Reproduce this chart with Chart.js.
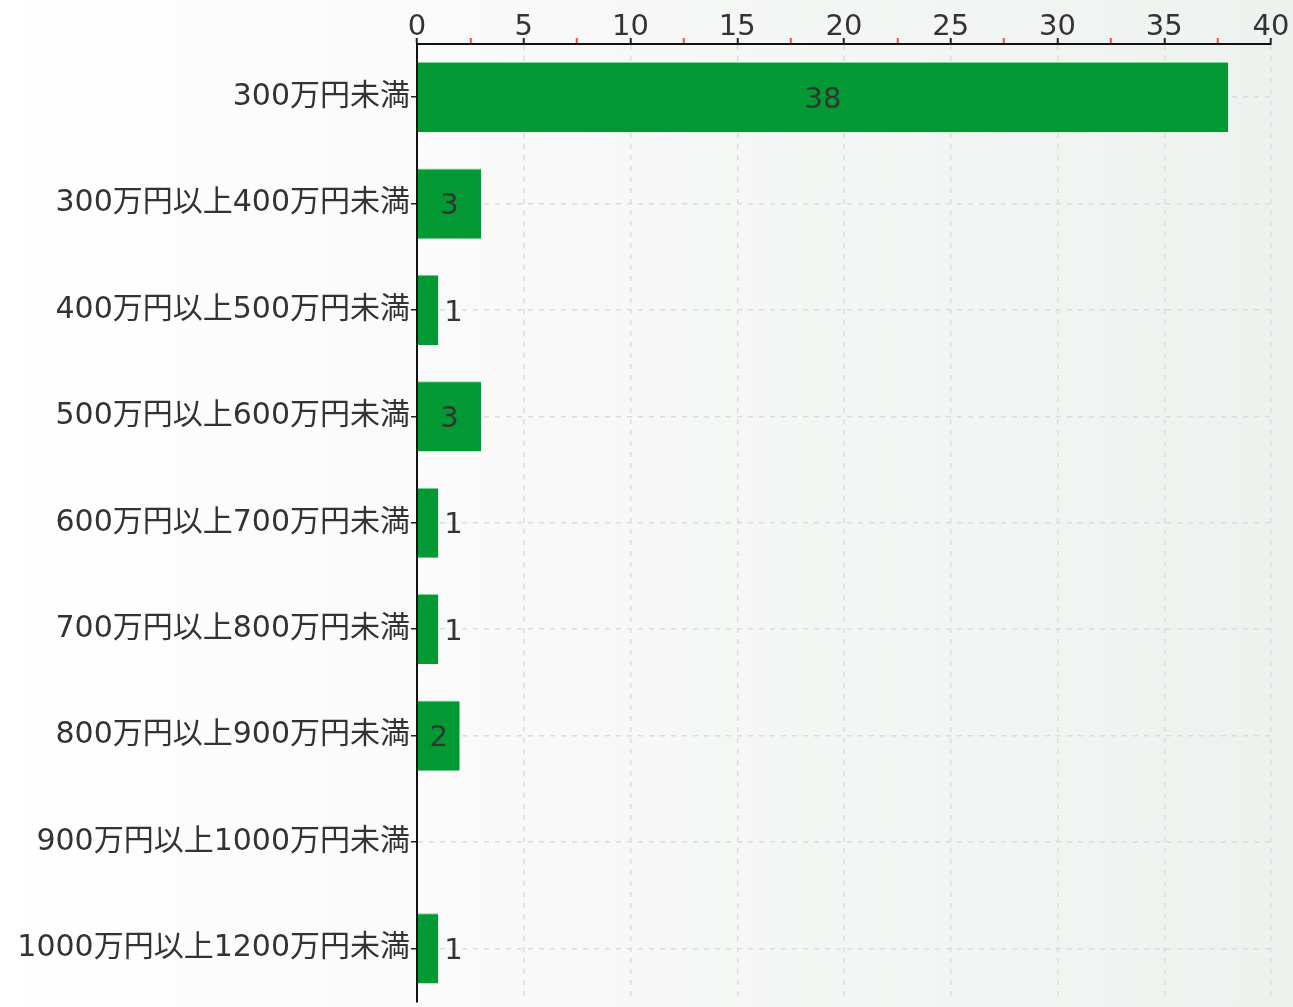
<!DOCTYPE html>
<html>
<head>
<meta charset="utf-8">
<script src="https://cdn.jsdelivr.net/npm/chart.js@4.4.1/dist/chart.umd.min.js"></script>
<style>
  html, body { margin: 0; padding: 0; }
  body {
    width: 1293px; height: 1007px; overflow: hidden;
    background: linear-gradient(to right, #ffffff 0%, #f8f9f8 40%, #eef2ef 100%);
  }
  canvas { display: block; }
</style>
</head>
<body>
<canvas id="income-chart" width="1293" height="1007"></canvas>
<script>
// Categories and counts
const categories = [
  "300万円未満",
  "300万円以上400万円未満",
  "400万円以上500万円未満",
  "500万円以上600万円未満",
  "600万円以上700万円未満",
  "700万円以上800万円未満",
  "800万円以上900万円未満",
  "900万円以上1000万円未満",
  "1000万円以上1200万円未満",
];
const counts = [38, 3, 1, 3, 1, 1, 2, 0, 1];
const axisMin = 0;
const axisMax = 40;
const majorStep = 5;
const minorStep = 2.5;

const FONT = '"DejaVu Sans", "Noto Sans CJK JP", sans-serif';

// Draw the count on each bar (inside when it fits, right of the bar otherwise)
const valueLabels = {
  id: "valueLabels",
  afterDatasetsDraw(chart) {
    const ctx = chart.ctx;
    const meta = chart.getDatasetMeta(0);
    ctx.save();
    ctx.font = "29px " + FONT;
    ctx.fillStyle = "#333";
    ctx.textBaseline = "middle";
    meta.data.forEach((bar, i) => {
      const v = counts[i];
      if (!v) return;
      const text = String(v);
      const w = ctx.measureText(text).width;
      const len = bar.x - bar.base;
      if (len > w + 12) {
        ctx.textAlign = "center";
        ctx.fillText(text, (bar.x + bar.base) / 2, bar.y + 3);
      } else {
        ctx.textAlign = "left";
        ctx.fillText(text, bar.x + 6, bar.y + 3);
      }
    });
    ctx.restore();
  },
};

const ctx = document.getElementById("income-chart").getContext("2d");

new Chart(ctx, {
  type: "bar",
  data: {
    labels: categories,
    datasets: [
      {
        data: counts,
        backgroundColor: "#029935",
        borderColor: "#7fd89a",
        borderWidth: { top: 1, right: 0, bottom: 0, left: 0 },
        borderSkipped: false,
        barPercentage: 0.66,
        categoryPercentage: 1,
      },
    ],
  },
  options: {
    indexAxis: "y",
    responsive: false,
    animation: false,
    layout: { padding: { top: 0, right: 22, bottom: 0, left: 0 } },
    plugins: {
      legend: { display: false },
      tooltip: { enabled: false },
    },
    scales: {
      x: {
        position: "top",
        min: axisMin,
        max: axisMax,
        afterFit: (scale) => { scale.height = 44; },
        ticks: {
          stepSize: minorStep,
          autoSkip: false,
          maxRotation: 0,
          color: "#333",
          font: { family: FONT, size: 29, lineHeight: 0.95 },
          padding: -3,
          callback: (v) => (v % majorStep === 0 ? String(v) : ""),
        },
        grid: {
          color: (c) => (c.tick && c.tick.value % majorStep === 0 && c.tick.value !== 0 ? "#dadddb" : "rgba(0,0,0,0)"),
          tickColor: (c) => (c.tick && c.tick.value % majorStep === 0 ? "#222" : "#e05050"),
          tickLength: 6,
          lineWidth: 1.5,
          tickWidth: 2,
        },
        border: { display: true, color: "#111", width: 2, dash: [5, 6] },
      },
      y: {
        afterFit: (scale) => { scale.width = 417; },
        ticks: {
          color: "#333",
          font: { family: FONT, size: 30, lineHeight: 0.3 },
          padding: 1,
        },
        grid: {
          offset: false,
          color: "#dadddb",
          tickColor: "#222",
          tickLength: 6,
          lineWidth: 1.5,
          tickWidth: 1.5,
        },
        border: { display: true, color: "#111", width: 2, dash: [5, 6] },
      },
    },
  },
  plugins: [valueLabels],
});
</script>
</body>
</html>
